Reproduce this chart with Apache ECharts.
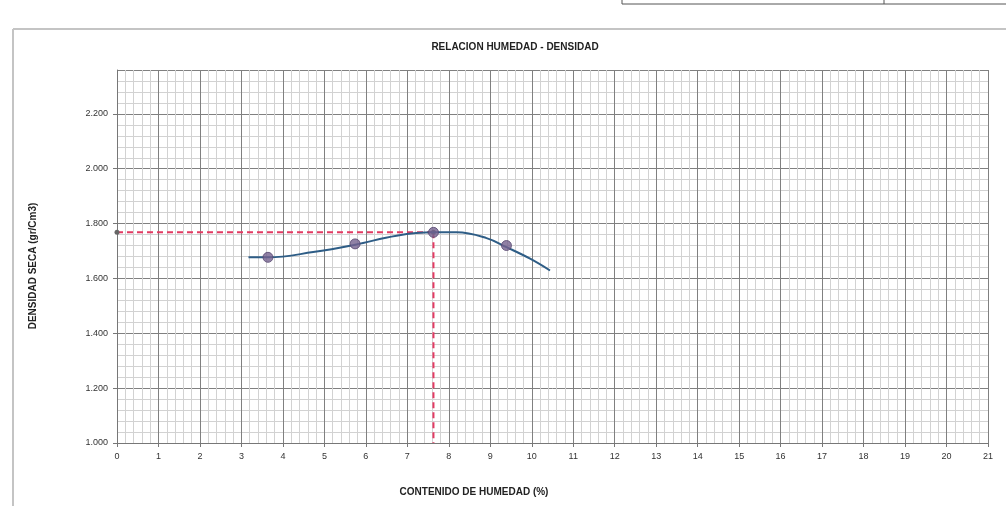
<!DOCTYPE html>
<html>
<head>
<meta charset="utf-8">
<script src="https://cdn.jsdelivr.net/npm/echarts@6/dist/echarts.min.js"></script>
<style>
html,body{margin:0;padding:0;background:#fff;}
#chart{width:1006px;height:506px;}
</style>
</head>
<body>
<div id="chart"></div>
<script>
// Test points (moisture %, dry density gr/cm3)
const pointMoisture = [3.64, 5.74, 7.63, 9.39];
const pointDensity  = [1.677, 1.726, 1.768, 1.720];
// Trend curve
const curveMoisture = [3.17, 3.64, 4.73, 5.74, 6.74, 7.63, 8.19, 8.91, 9.39, 9.96, 10.44];
const curveDensity  = [1.677, 1.677, 1.696, 1.723, 1.756, 1.768, 1.768, 1.747, 1.714, 1.672, 1.629];
// Optimum
const optimumMoisture = 7.63;
const maxDryDensity = 1.768;
// Axes
const xTicks = [0,1,2,3,4,5,6,7,8,9,10,11,12,13,14,15,16,17,18,19,20,21];
const yTicks = [1.0, 1.2, 1.4, 1.6, 1.8, 2.0, 2.2];

const FONT = '"Liberation Sans Narrow", "Arial Narrow", "Liberation Sans", sans-serif';

const chart = echarts.init(document.getElementById('chart'), null, {renderer: 'canvas'});
const zip = (a, b) => a.map((v, i) => [v, b[i]]);

chart.setOption({
  animation: false,
  backgroundColor: '#fff',
  title: {
    text: 'RELACION HUMEDAD - DENSIDAD',
    left: 510, top: 37, textAlign: 'center',
    textStyle: {fontFamily: FONT, fontSize: 10, fontWeight: 'bold', color: '#222'}
  },
  grid: {left: 117, right: 18, top: 70, bottom: 63},
  xAxis: {
    type: 'value',
    min: xTicks[0], max: xTicks[xTicks.length - 1], interval: 1,
    axisLine: {show: true, onZero: false, lineStyle: {color: '#777', width: 1}},
    axisTick: {show: true, length: 4, lineStyle: {color: '#777'}},
    minorTick: {show: false},
    axisLabel: {fontFamily: FONT, fontSize: 9, color: '#333', margin: 9},
    splitLine: {show: true, lineStyle: {color: '#808080', width: 1}},
    minorSplitLine: {show: true, lineStyle: {color: '#d2d2d2', width: 1}},
  },
  yAxis: {
    type: 'value',
    min: yTicks[0], max: 2.36, interval: 0.2,
    axisLine: {show: true, lineStyle: {color: '#777'}},
    axisTick: {show: true, length: 4, lineStyle: {color: '#777'}},
    axisLabel: {
      fontFamily: FONT, fontSize: 9, color: '#333', margin: 9, showMaxLabel: false,
      formatter: v => (v > yTicks[yTicks.length - 1] + 0.01 ? '' : v.toFixed(3))
    },
    splitLine: {show: true, lineStyle: {color: '#808080', width: 1}},
    minorSplitLine: {show: true, lineStyle: {color: '#d2d2d2', width: 1}},
  },
  series: [
    {
      type: 'line', name: 'hline',
      data: [[xTicks[0], maxDryDensity], [optimumMoisture, maxDryDensity]],
      showSymbol: true, symbol: 'circle', symbolSize: [5, 5],
      itemStyle: {color: '#666'},
      lineStyle: {color: '#e23a62', width: 2, type: [6, 4]},
      z: 3
    },
    {
      type: 'line', name: 'vline',
      data: [[optimumMoisture, maxDryDensity], [optimumMoisture, yTicks[0]]],
      showSymbol: false,
      lineStyle: {color: '#e23a62', width: 2, type: [6, 4]},
      z: 3
    },
    {
      type: 'line', name: 'curve',
      data: zip(curveMoisture, curveDensity),
      smooth: 0.4, showSymbol: false,
      lineStyle: {color: '#2e5d86', width: 2},
      z: 4
    },
    {
      type: 'scatter', name: 'points',
      data: zip(pointMoisture, pointDensity),
      symbol: 'circle', symbolSize: 10,
      itemStyle: {color: '#74628e', borderColor: '#56466f', borderWidth: 1},
      z: 5
    }
  ],
  graphic: [
    {type: 'line', shape: {x1: 13, y1: 29, x2: 1006, y2: 29}, style: {stroke: '#c4c4c4', lineWidth: 2}},
    {type: 'line', shape: {x1: 13, y1: 29, x2: 13, y2: 506}, style: {stroke: '#c4c4c4', lineWidth: 2}},
    {type: 'rect', shape: {x: 622, y: -10, width: 390, height: 14}, style: {fill: 'none', stroke: '#555', lineWidth: 1}},
    {type: 'line', shape: {x1: 884, y1: -2, x2: 884, y2: 4}, style: {stroke: '#555', lineWidth: 1}},
    {
      type: 'text', x: 474, y: 492,
      style: {text: 'CONTENIDO DE HUMEDAD (%)', font: 'bold 10px ' + FONT, fill: '#222', align: 'center', verticalAlign: 'middle'}
    },
    {
      type: 'text', x: 33, y: 266, rotation: Math.PI / 2,
      style: {text: 'DENSIDAD SECA (gr/Cm3)', font: 'bold 10px ' + FONT, fill: '#222', align: 'center', verticalAlign: 'middle'}
    }
  ]
});
</script>
</body>
</html>
